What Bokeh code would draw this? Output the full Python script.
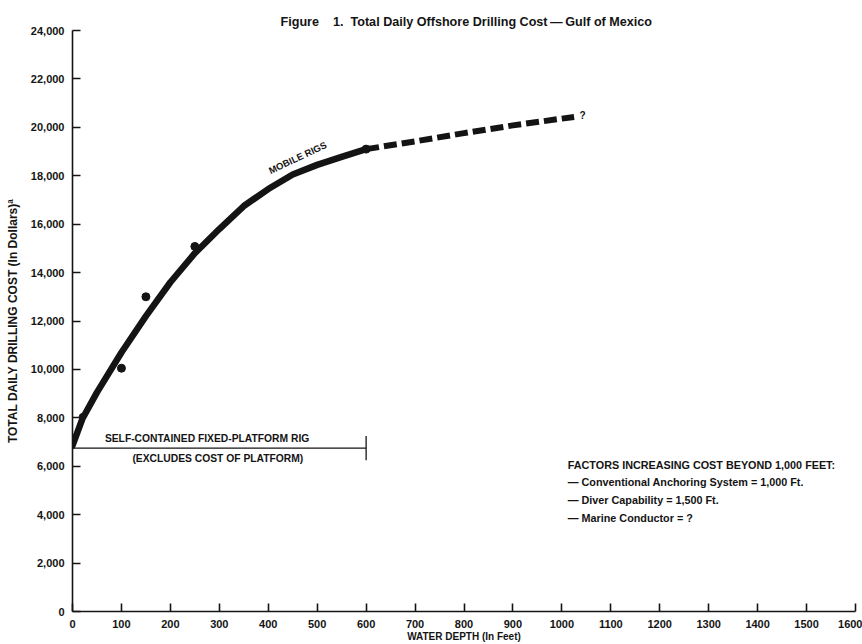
from bokeh.plotting import figure
from bokeh.models import Range1d, FixedTicker, NumeralTickFormatter
from bokeh.core.properties import value
from bokeh.embed import file_html
from bokeh.resources import INLINE

# ---- data ----
solid_depth = [0, 20, 50, 100, 150, 200, 250, 300, 350, 400, 450, 500, 550, 600]
solid_cost = [6850, 7950, 9050, 10700, 12200, 13600, 14800, 15800, 16750, 17450, 18050, 18450, 18780, 19100]
dashed_depth = [600, 700, 800, 900, 1000, 1025]
dashed_cost = [19100, 19420, 19760, 20080, 20360, 20430]
obs_depth = [100, 150, 250, 600]
obs_cost = [10050, 13000, 15080, 19100]
small_depth = [20]
small_cost = [8050]
x_ticks = list(range(0, 1700, 100))
y_ticks = list(range(0, 26000, 2000))
bracket_depth = [0, 600]
bracket_cost = 6750
factor_lines = [
    "FACTORS INCREASING COST BEYOND 1,000 FEET:",
    "\u2014 Conventional Anchoring System = 1,000 Ft.",
    "\u2014 Diver Capability = 1,500 Ft.",
    "\u2014 Marine Conductor = ?",
]
factor_cost = [6050, 5330, 4590, 3880]
title_text = "Figure\u00a0\u00a0\u00a0\u00a01.\u00a0\u00a0Total Daily Offshore Drilling Cost\u2009\u2014\u2009Gulf of Mexico"

FONT = "Liberation Sans"
INK = "#141414"

p = figure(width=862, height=644, output_backend="svg", toolbar_location=None,
           x_range=Range1d(0, 1600), y_range=Range1d(0, 24000),
           min_border_left=72, min_border_right=7, min_border_top=30, min_border_bottom=33)
p.outline_line_color = None
p.xgrid.visible = False
p.ygrid.visible = False

p.title.text = title_text
p.title.text_font = FONT
p.title.text_font_size = "12.6px"
p.title.text_font_style = "bold"
p.title.text_color = INK
p.title.align = "left"
p.title.vertical_align = "top"
p.title.offset = 208
p.title.standoff = 0

for ax in (p.xaxis[0], p.yaxis[0]):
    ax.axis_line_width = 1.6
    ax.axis_line_color = INK
    ax.major_tick_line_width = 1.6
    ax.major_tick_line_color = INK
    ax.major_tick_in = 8
    ax.major_tick_out = 0
    ax.minor_tick_line_color = None
    ax.major_label_text_font = FONT
    ax.major_label_text_font_style = "bold"
    ax.major_label_text_font_size = "11px"
    ax.major_label_text_color = INK
    ax.axis_label_text_font = FONT
    ax.axis_label_text_font_style = "bold"
    ax.axis_label_text_color = INK

p.xaxis.ticker = FixedTicker(ticks=x_ticks)
p.yaxis.ticker = FixedTicker(ticks=y_ticks)
p.yaxis.formatter = NumeralTickFormatter(format="0,0")
p.xaxis.major_label_standoff = 8
p.xaxis.axis_label = "WATER DEPTH (In Feet)"
p.xaxis.axis_label_text_font_size = "10px"
p.xaxis.axis_label_standoff = 0
p.yaxis.major_label_standoff = 8
p.yaxis.axis_label = "TOTAL DAILY DRILLING COST (In Dollars)\u00aa"
p.yaxis.axis_label_text_font_size = "12px"
p.yaxis.axis_label_standoff = 8

# curves
p.line(solid_depth, solid_cost, line_width=6.5, color=INK, line_join="round", line_cap="round")
p.line(dashed_depth, dashed_cost, line_width=6, color=INK, line_dash="13 5")
p.scatter(obs_depth, obs_cost, size=8, color=INK)
p.scatter(small_depth, small_cost, size=6, color=INK)

# bracket for fixed-platform rig
p.line(bracket_depth, [bracket_cost, bracket_cost], line_width=1.3, color=INK)
p.segment(x0=[600], y0=[6250], x1=[600], y1=[7250], line_width=1.3, color=INK)

txt = dict(text_font=value(FONT), text_font_style="bold", text_color=INK)
p.text(x=[275], y=[7130], text=["SELF-CONTAINED FIXED-PLATFORM RIG"], text_align="center",
       text_baseline="middle", text_font_size="10.3px", **txt)
p.text(x=[297], y=[6330], text=["(EXCLUDES COST OF PLATFORM)"], text_align="center",
       text_baseline="middle", text_font_size="10.3px", **txt)
p.text(x=[460], y=[18750], text=["MOBILE RIGS"], angle=0.44, text_align="center",
       text_baseline="middle", text_font_size="9.5px", **txt)
p.text(x=[1036], y=[20500], text=["?"], text_align="left", text_baseline="middle",
       text_font_size="10px", **txt)
p.text(x=[1012] * len(factor_lines), y=factor_cost, text=factor_lines, text_align="left",
       text_baseline="middle", text_font_size="10.8px", **txt)

open("out.html", "w").write(file_html(p, INLINE))
